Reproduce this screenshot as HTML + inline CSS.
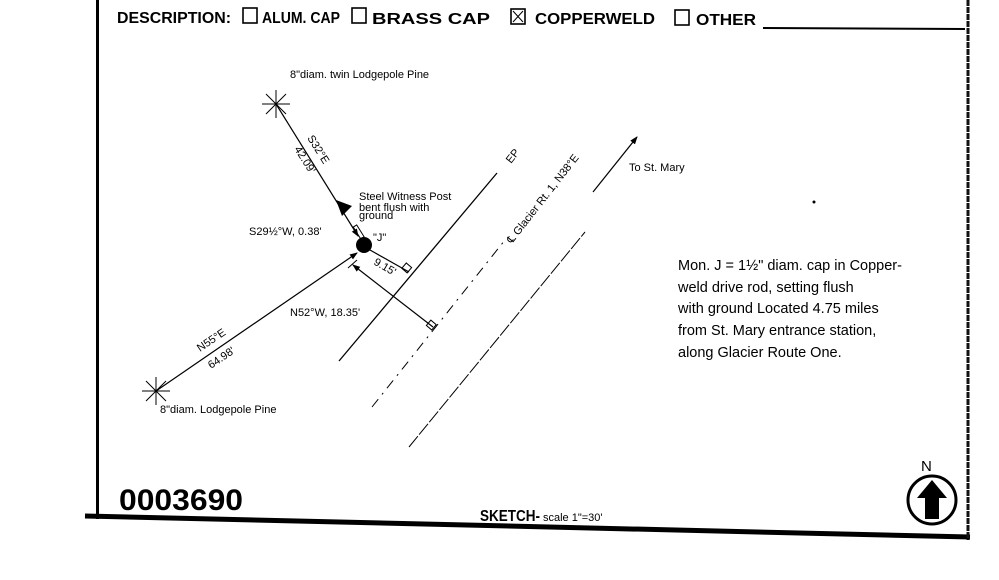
<!DOCTYPE html>
<html><head><style>
html,body{margin:0;padding:0;background:#fff;}
svg{display:block}
.h{font-family:"Liberation Sans",sans-serif;font-weight:bold;font-size:16px;fill:#000}
.w{font-family:"Liberation Sans",sans-serif;font-size:11px;fill:#000}
.r{font-family:"Liberation Sans",sans-serif;font-size:14.5px;fill:#000}
</style></head><body>
<svg width="999" height="580" viewBox="0 0 999 580" xmlns="http://www.w3.org/2000/svg">
<defs><marker id="a" markerWidth="8" markerHeight="8" refX="7" refY="4" orient="auto" markerUnits="userSpaceOnUse"><path d="M0,1 L8,4 L0,7 Z" fill="#000"/></marker></defs>
<rect x="96" y="0" width="3" height="519" fill="#000"/>
<path d="M85,516 L970,537" stroke="#000" stroke-width="5"/>
<path d="M968,0 L968,540" stroke="#111" stroke-width="3" stroke-dasharray="6,1"/>
<text class="h" x="117" y="23" textLength="114" lengthAdjust="spacingAndGlyphs">DESCRIPTION:</text>
<rect x="243" y="8" width="14" height="15" fill="none" stroke="#000" stroke-width="1.6"/>
<text class="h" x="262" y="23" textLength="78" lengthAdjust="spacingAndGlyphs">ALUM. CAP</text>
<rect x="352" y="8" width="14" height="15" fill="none" stroke="#000" stroke-width="1.6"/>
<text class="h" x="372" y="24" textLength="118" lengthAdjust="spacingAndGlyphs">BRASS CAP</text>
<rect x="511" y="9" width="14" height="15" fill="none" stroke="#000" stroke-width="1.6"/>
<path d="M513,11 L523,22 M523,11 L513,22" stroke="#000" stroke-width="1"/>
<text class="h" x="535" y="24" textLength="120" lengthAdjust="spacingAndGlyphs">COPPERWELD</text>
<rect x="675" y="10" width="14" height="15" fill="none" stroke="#000" stroke-width="1.6"/>
<text class="h" x="696" y="25" textLength="60" lengthAdjust="spacingAndGlyphs">OTHER</text>
<path d="M763,28 L965,29" stroke="#000" stroke-width="2"/>
<g stroke="#000" stroke-width="1">
<path d="M262,104 L290,104 M276,90 L276,118 M266,94 L286,114 M286,94 L266,114"/>
<path d="M142,391 L170,391 M156,377 L156,405 M146,381 L166,401 M166,381 L146,401"/>
</g>
<text class="w" x="290" y="78">8"diam. twin Lodgepole Pine</text>
<text class="w" x="160" y="413" font-size="10">8"diam. Lodgepole Pine</text>
<path d="M276,104 L358,236" stroke="#000" stroke-width="1.2" marker-end="url(#a)"/>
<rect x="-2" y="0" width="4" height="14" fill="none" stroke="#000" stroke-width="1" transform="translate(355,226) rotate(-32)"/>
<path d="M336,200 L352,206 L342,216 Z" fill="#000"/>
<path d="M156,391 L357,253" stroke="#000" stroke-width="1.2" marker-end="url(#a)"/>
<circle cx="364" cy="245" r="8" fill="#000"/>
<path d="M370,250 L409,272" stroke="#000" stroke-width="1.2"/>
<rect x="403" y="265" width="7" height="7" fill="none" stroke="#000" transform="rotate(-50 406 268)"/>
<path d="M433,327 L353,265" stroke="#000" stroke-width="1.2" marker-end="url(#a)"/>
<path d="M348,268 L357,260" stroke="#000"/>
<rect x="428" y="321" width="7" height="7" fill="none" stroke="#000" transform="rotate(-50 432 325)"/>
<path d="M339,361 L497,173" stroke="#000" stroke-width="1.3"/>
<path d="M372,407 L505,240" stroke="#000" stroke-width="1" stroke-dasharray="10,6,2,6"/>
<path d="M409,447 L585,232" stroke="#000" stroke-width="1" stroke-dasharray="14,2"/>
<path d="M593,192 L637,137" stroke="#000" stroke-width="1.2" marker-end="url(#a)"/>
<text class="w" font-size="14" transform="translate(307,138) rotate(58)">S32°E</text>
<text class="w" font-size="14" transform="translate(294,149) rotate(58)">42.09'</text>
<text class="w" x="359" y="200" font-size="11">Steel Witness Post</text>
<text class="w" x="359" y="211" font-size="11">bent flush with</text>
<text class="w" x="359" y="219" font-size="9">ground</text>
<text class="w" x="249" y="235" font-size="12">S29½°W, 0.38'</text>
<text class="w" x="373" y="241" font-size="12">"J"</text>
<text class="w" font-size="11" transform="translate(373,264) rotate(30)">9.15'</text>
<text class="w" x="290" y="316" font-size="12">N52°W, 18.35'</text>
<text class="w" font-size="14" transform="translate(200,352) rotate(-34)">N55°E</text>
<text class="w" font-size="14" transform="translate(211,369) rotate(-34)">64.98'</text>
<text class="w" font-size="13" transform="translate(511,164) rotate(-52)">EP</text>
<text class="w" font-size="13" transform="translate(512,244) rotate(-52)">℄ Glacier Rt. 1, N38°E</text>
<text class="w" x="629" y="171" font-size="12">To St. Mary</text>
<circle cx="814" cy="202" r="1.5" fill="#000"/>
<text class="r" x="678" y="270">Mon. J = 1½" diam. cap in Copper-</text>
<text class="r" x="678" y="292">weld drive rod, setting flush</text>
<text class="r" x="678" y="313">with ground  Located 4.75 miles</text>
<text class="r" x="678" y="335">from St. Mary entrance station,</text>
<text class="r" x="678" y="357">along Glacier Route One.</text>
<text x="119" y="510" font-family="Liberation Sans,sans-serif" font-weight="bold" font-size="30" textLength="124" lengthAdjust="spacingAndGlyphs">0003690</text>
<text class="h" x="480" y="521" font-size="14" textLength="60" lengthAdjust="spacingAndGlyphs">SKETCH-</text>
<text class="w" x="543" y="521" font-size="11" fill="#888">scale 1"=30'</text>
<text x="921" y="471" font-family="Liberation Sans,sans-serif" font-size="15">N</text>
<circle cx="932" cy="500" r="24" fill="none" stroke="#000" stroke-width="3"/>
<path d="M932,480 L947,498 L939,498 L939,519 L925,519 L925,498 L917,498 Z" fill="#000"/>
</svg>
</body></html>
